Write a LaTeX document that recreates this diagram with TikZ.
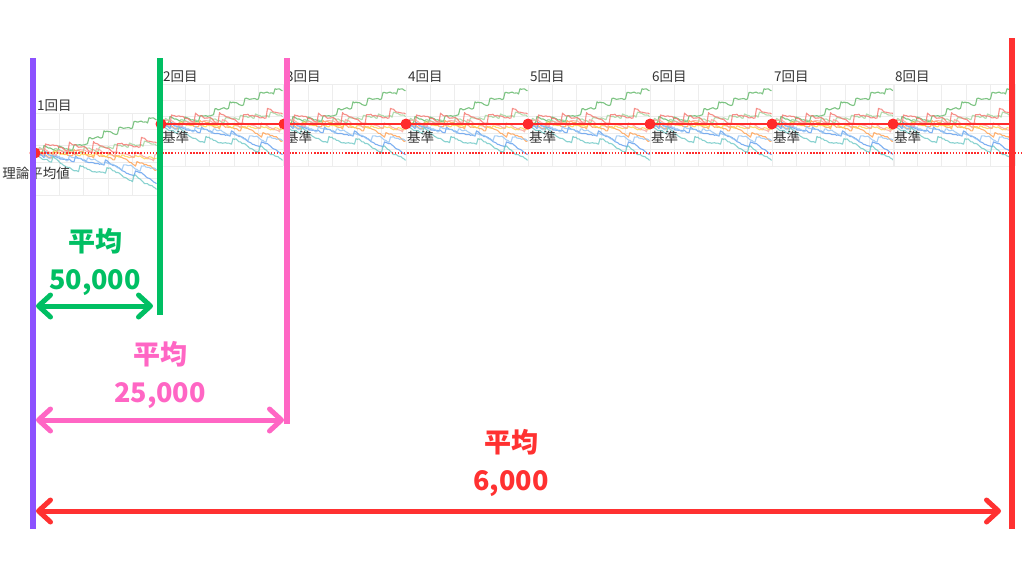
\documentclass[tikz,border=0pt]{standalone}
\usepackage{fontspec}
\setmainfont{Noto Sans CJK JP}
\usepackage{tikz}
\usetikzlibrary{arrows.meta,positioning,calc}
\definecolor{kaiviolet}{HTML}{8C52FF}
\definecolor{kaigreen}{HTML}{00BF63}
\definecolor{kaipink}{HTML}{FF66C4}
\definecolor{kaired}{HTML}{FF3131}
\definecolor{refred}{HTML}{FF2B2B}
\definecolor{ink}{HTML}{333333}
\definecolor{gridc}{HTML}{EDEDED}
% 試行ごとの線の色
\definecolor{wgreen}{HTML}{5DB564}
\definecolor{wlgreen}{HTML}{9ED39A}
\definecolor{wred}{HTML}{F4736C}
\definecolor{worange}{HTML}{FF9F4F}
\definecolor{wyellow}{HTML}{FFD24D}
\definecolor{wblue}{HTML}{5E9CEE}
\definecolor{wlblue}{HTML}{93C3F2}
\definecolor{wteal}{HTML}{6CC7C4}
\definecolor{wsalmon}{HTML}{F8A39A}
\tikzset{
  bar/.style={line width=6pt, line cap=butt},
  span/.style={line width=5pt,
               {Straight Barb[length=12pt,width=22pt,round]}-{Straight Barb[length=12pt,width=22pt,round]}},
  avg/.style={font=\bfseries\fontsize{27}{38}\selectfont, align=center, inner sep=0pt},
  tiny/.style={font=\fontsize{13.5}{15}\selectfont, text=ink, inner sep=0pt},
  walkline/.style={line width=1.1pt, opacity=0.8, line join=round},
  gridline/.style={draw=gridc, line width=0.8pt},
  refline/.style={draw=refred, line width=2pt},
  basedot/.style={circle, fill=refred, minimum size=11pt, inner sep=0pt},
}
% 1本の推移：#2=1歩ごとの下げ幅, #3=当たりの間隔, #4=当たりの上げ幅, #5=ずらし
\newcommand{\kaiwalk}[5]{%
  \draw[walkline, #1] (0,0) \foreach \k in {1,...,81}{
    -- ++(1.5,{#2+(rnd-0.5)*2.2-(mod(\k+#5,#3)==0)*#4}) };}
% 1回分のグラフ：#1=左端, #2=基準の高さ, #3=回数
\newcommand{\kaipanel}[3]{%
  \begin{scope}[shift={(#1,#2)}]
    \foreach \gx in {0,24.4,48.8,73.2,97.6,122}
      \draw[gridline] (\gx,-40) -- (\gx,42);
    \foreach \gy in {-40,-23.6,-7.2,9.2,25.6,42}
      \draw[gridline] (0,\gy) -- (122,\gy);
    \pgfmathsetseed{31}
    \kaiwalk{wgreen}{0.25}{10}{6}{4}
    \kaiwalk{wlgreen}{0.4}{10}{5.5}{7}
    \kaiwalk{wred}{0.6}{16}{10}{9}
    \kaiwalk{worange}{0.55}{14}{6}{2}
    \kaiwalk{wyellow}{0.35}{9}{3}{5}
    \kaiwalk{wblue}{0.7}{20}{6}{13}
    \kaiwalk{wlblue}{0.5}{12}{5}{1}
    \kaiwalk{wteal}{0.75}{18}{7}{6}
    \kaiwalk{wsalmon}{0.45}{13}{6}{11}
    \coordinate (base-#3) at (0,0);
    \node[tiny, anchor=south west] (kai-#3) at (2,-41) {#3回目};
  \end{scope}}

\begin{document}
\begin{tikzpicture}[x=1pt, y=-1pt]
  \useasboundingbox (0,0) rectangle (1024,576);

  % 上段：各回のグラフ（1回目だけ理論平均値の高さ）
  \kaipanel{35}{153}{1}
  \foreach \n/\px in {2/161,3/284,4/406,5/528,6/650,7/772,8/893}{
    \kaipanel{\px}{124}{\n}
  }

  % 縦の区切り線の端点
  \coordinate (vTop) at (33,58);   \coordinate (vBot) at (33,529);
  \coordinate (gTop) at (160,58);  \coordinate (gBot) at (160,315);
  \coordinate (pTop) at (287,58);  \coordinate (pBot) at (287,424);
  \coordinate (rTop) at (1012,38); \coordinate (rBot) at (1012,529);
  \coordinate (dotEnd) at (1022,153);

  \draw[refline] (base-2) -- (base-2 -| rTop);
  \draw[refline, dash pattern=on 1.5pt off 1.6pt] (base-1) -- (dotEnd);
  \node[basedot] (dot-1) at (base-1) {};
  \node[tiny] (riron) at ($(base-1)+(1,20)$) {理論平均値};
  \foreach \n in {2,...,8} {
    \node[basedot] (dot-\n) at (base-\n) {};
    \node[tiny, anchor=west] (kijun-\n) at ($(base-\n)+(1,13)$) {基準};
  }

  \draw[bar, kaiviolet] (vTop) -- (vBot);
  \draw[bar, kaigreen] (gTop) -- (gBot);
  \draw[bar, kaipink] (pTop) -- (pBot);
  \draw[bar, kaired] (rTop) -- (rBot);

  % 区間の長さを示す矢印
  \coordinate (g-a) at (36,306);  \coordinate (g-b) at (153,306);
  \coordinate (p-a) at (36,420);  \coordinate (p-b) at (284,420);
  \coordinate (r-a) at (36,511);  \coordinate (r-b) at (1001,511);
  \draw[span, kaigreen] (g-a) -- (g-b);
  \draw[span, kaipink] (p-a) -- (p-b);
  \draw[span, kaired] (r-a) -- (r-b);

  \node[avg, text=kaigreen] (avg-g) at (95,262) {平均\\50,000};
  \node[avg, text=kaipink] (avg-p) at (160,375) {平均\\25,000};
  \node[avg, text=kaired] (avg-r) at (511,463) {平均\\6,000};
\end{tikzpicture}
\end{document}
